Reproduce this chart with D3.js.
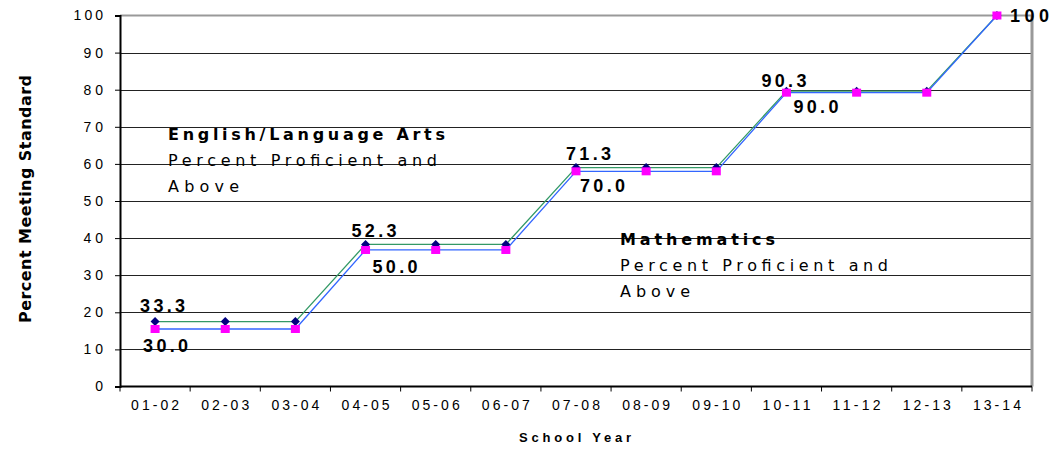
<!DOCTYPE html>
<html>
<head>
<meta charset="utf-8">
<script src="https://cdn.jsdelivr.net/npm/d3@7"></script>
<style>
  body { margin: 0; background: #fff; }
  svg { display: block; }
</style>
</head>
<body>
<script>
// data
const years = ["01-02","02-03","03-04","04-05","05-06","06-07","07-08","08-09","09-10","10-11","11-12","12-13","13-14"];
const elaValues = [17.5,17.5,17.5,38.3,38.3,38.3,59.0,59.0,59.0,79.6,79.6,79.6,100];
const mathValues = [15.5,15.5,15.5,36.8,36.8,36.8,58.0,58.0,58.0,79.2,79.2,79.2,100];
const elaLabelYears = ["01-02","04-05","07-08","10-11","13-14"];
const elaLabels = ["33.3","52.3","71.3","90.3","100"];
const mathLabelYears = ["01-02","04-05","07-08","10-11"];
const mathLabels = ["30.0","50.0","70.0","90.0"];
const yTicks = [0,10,20,30,40,50,60,70,80,90,100];

// hand nudges of the value labels against their point, [dx, dy]
const elaNudge = [[-15,-10],[-14,-7],[-10,-8],[-25,-4],[13,6]];
const mathNudge = [[-12,23],[7,23],[4,21],[7,20]];

function main(){
    const W = 1061, H = 449;
    const left = 120, right = 1032, top = 15.5, bottom = 386.5;
    const comic = "'Comic Sans MS','DejaVu Sans',sans-serif";
    const arial = "'Liberation Sans',Arial,sans-serif";

    const svg = d3.select("body").append("svg")
        .attr("width", W)
        .attr("height", H);

    // letter-spacing done with textLength, the wide tracking of the original
    const spread = (sel, w) => sel.attr("textLength", w).attr("lengthAdjust", "spacing");

    const x = d3.scaleBand().domain(years).range([left, right]);
    const y = d3.scaleLinear().domain([0,100]).range([bottom, top]);
    const cx = d => x(d) + x.bandwidth()/2;

    // gridlines
    svg.append("g").selectAll("line")
        .data(yTicks.filter(t => t > 0 && t < 100))
        .join("line")
            .attr("x1", left).attr("x2", right)
            .attr("y1", d => Math.round(y(d)) + 0.5).attr("y2", d => Math.round(y(d)) + 0.5)
            .attr("stroke", "#222").attr("stroke-width", 1);

    // top and right frame (grey)
    svg.append("line").attr("x1", left).attr("x2", right + 1).attr("y1", top).attr("y2", top)
        .attr("stroke", "#999").attr("stroke-width", 2);
    svg.append("line").attr("x1", right).attr("x2", right).attr("y1", top).attr("y2", bottom)
        .attr("stroke", "#999").attr("stroke-width", 3);

    // y axis
    const yAxis = svg.append("g")
        .attr("transform", "translate(" + left + ",0)")
        .call(d3.axisLeft(y).tickValues(yTicks).tickSize(5).tickPadding(12));
    yAxis.select(".domain").attr("stroke", "#000").attr("stroke-width", 2);
    yAxis.selectAll(".tick line").attr("stroke", "#000");
    yAxis.selectAll("text")
        .attr("font-family", arial).attr("font-size", 14)
        .attr("fill", "#000")
        .each(function(d){ spread(d3.select(this), String(d).length * 9.8); });

    // x axis, labels in band centres, ticks on band edges
    const xAxis = svg.append("g")
        .attr("transform", "translate(0," + bottom + ")")
        .call(d3.axisBottom(x).tickSize(0).tickPadding(14));
    xAxis.select(".domain").remove();
    xAxis.selectAll("text")
        .attr("font-family", arial).attr("font-size", 14)
        .attr("fill", "#000")
        .call(spread, 48);
    svg.append("line").attr("x1", left).attr("x2", right).attr("y1", bottom).attr("y2", bottom)
        .attr("stroke", "#000").attr("stroke-width", 2);
    svg.append("g").selectAll("line")
        .data(years.concat(["end"]))
        .join("line")
            .attr("x1", (d,i) => left + i*x.bandwidth()).attr("x2", (d,i) => left + i*x.bandwidth())
            .attr("y1", bottom).attr("y2", bottom + 5)
            .attr("stroke", "#000");

    // lines
    const line = d3.line().x((d,i) => cx(years[i])).y(d => y(d));
    svg.append("path").datum(elaValues).attr("d", line)
        .attr("fill", "none").attr("stroke", "#339966").attr("stroke-width", 1.3);
    svg.append("path").datum(mathValues).attr("d", line)
        .attr("fill", "none").attr("stroke", "#3366ff").attr("stroke-width", 1.3);

    // markers
    svg.append("g").selectAll("path")
        .data(elaValues)
        .join("path")
            .attr("transform", (d,i) => "translate(" + cx(years[i]) + "," + y(d) + ")")
            .attr("d", "M0,-4.5L4.5,0L0,4.5L-4.5,0Z")
            .attr("fill", "#000080");
    svg.append("g").selectAll("rect")
        .data(mathValues)
        .join("rect")
            .attr("x", (d,i) => cx(years[i]) - 4.5)
            .attr("y", d => y(d) - 4)
            .attr("width", 9).attr("height", 8)
            .attr("fill", "#ff00ff");

    // value labels
    const bold = sel => sel.attr("font-family", arial).attr("font-weight", "bold")
        .attr("font-size", 18).attr("fill", "#000");
    svg.append("g").selectAll("text")
        .data(elaLabels)
        .join("text")
            .attr("x", (d,i) => cx(elaLabelYears[i]) + elaNudge[i][0])
            .attr("y", (d,i) => y(elaValues[years.indexOf(elaLabelYears[i])]) + elaNudge[i][1])
            .text(d => d)
            .call(bold)
            .each(function(d){ spread(d3.select(this), d.length === 3 ? 39 : 45); });
    svg.append("g").selectAll("text")
        .data(mathLabels)
        .join("text")
            .attr("x", (d,i) => cx(mathLabelYears[i]) + mathNudge[i][0])
            .attr("y", (d,i) => y(mathValues[years.indexOf(mathLabelYears[i])]) + mathNudge[i][1])
            .text(d => d)
            .call(bold)
            .call(spread, 45);

    // series notes
    const note = (tx, ty, title, tw, pw, aw) => {
        const g = svg.append("g").attr("font-family", comic).attr("font-size", 16).attr("fill", "#000");
        g.append("text").attr("x", tx).attr("y", ty).attr("font-weight", "bold")
            .text(title).call(spread, tw);
        g.append("text").attr("x", tx).attr("y", ty + 26).text("Percent Proficient and").call(spread, pw);
        g.append("text").attr("x", tx).attr("y", ty + 52).text("Above").call(spread, aw);
    };
    note(168, 140, "English/Language Arts", 277, 269, 71);
    note(620, 245, "Mathematics", 155, 268, 70);

    // axis titles
    svg.append("text")
        .attr("transform", "translate(31,323) rotate(-90)")
        .attr("font-family", comic).attr("font-weight", "bold").attr("font-size", 16)
        .text("Percent Meeting Standard")
        .call(spread, 248);
    svg.append("text")
        .attr("x", 519).attr("y", 442)
        .attr("font-family", arial).attr("font-weight", "bold").attr("font-size", 13)
        .text("School Year")
        .call(spread, 112);
}
main();
</script>
</body>
</html>
